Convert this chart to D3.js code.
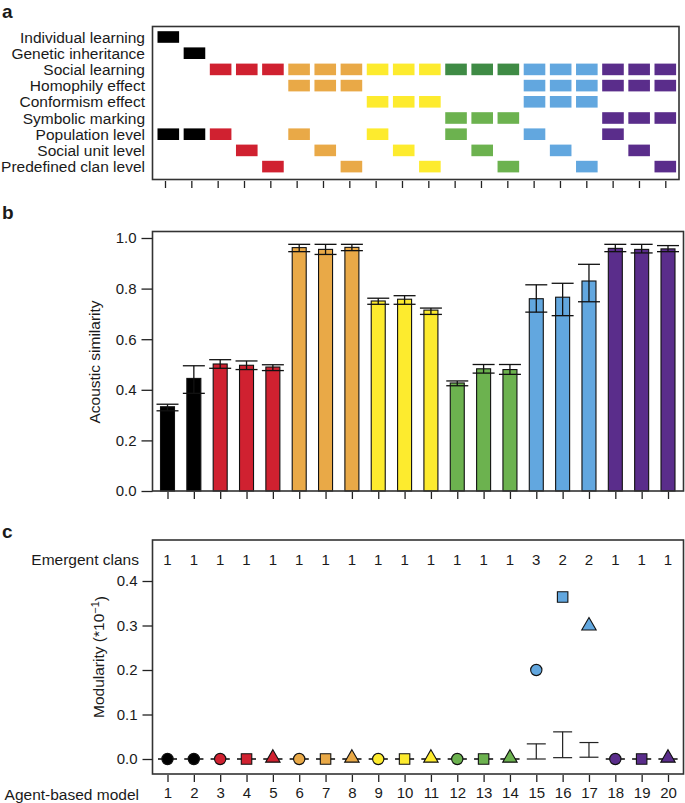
<!DOCTYPE html>
<html><head><meta charset="utf-8">
<script src="https://cdn.jsdelivr.net/npm/d3@7"></script>
<style>body{margin:0;background:#fff}svg{display:block}text{font-family:"Liberation Sans",Arial,sans-serif;fill:#1a1a1a}</style>
</head><body>
<script>
const models = d3.range(1, 21);
const features = ["Individual learning","Genetic inheritance","Social learning","Homophily effect","Conformism effect","Symbolic marking","Population level","Social unit level","Predefined clan level"];
const groupOf = ["black","black","red","red","red","orange","orange","orange","yellow","yellow","yellow","green","green","green","blue","blue","blue","purple","purple","purple"];
// active features per model (indices into features)
const activeFeatures = [
 [0,6],[1,6],[2,6],[2,7],[2,8],[2,3,6],[2,3,7],[2,3,8],[2,4,6],[2,4,7],[2,4,8],
 [2,5,6],[2,5,7],[2,5,8],[2,3,4,6],[2,3,4,7],[2,3,4,8],[2,3,5,6],[2,3,5,7],[2,3,5,8]
];
const similarity = [0.333,0.445,0.502,0.497,0.490,0.962,0.955,0.963,0.751,0.758,0.715,0.427,0.483,0.480,0.760,0.766,0.830,0.959,0.955,0.957];
const simLow  = [0.317,0.386,0.485,0.480,0.476,0.946,0.935,0.950,0.738,0.738,0.698,0.416,0.466,0.461,0.707,0.693,0.748,0.946,0.941,0.946];
const simHigh = [0.343,0.495,0.519,0.514,0.499,0.975,0.975,0.975,0.762,0.772,0.723,0.435,0.500,0.500,0.815,0.821,0.896,0.975,0.975,0.970];
const modularity = [0,0,0,0,0,0,0,0,0,0,0,0,0,0,0.200,0.364,0.297,0,0,0];
const modLow  = [0,0,0,0,0,0,0,0,0,0,0,0,0,0,0.000,0.003,0.004,0,0,0];
const modHigh = [0,0,0,0,0,0,0,0,0,0,0,0,0,0,0.034,0.061,0.037,0,0,0];
const emergentClans = [1,1,1,1,1,1,1,1,1,1,1,1,1,1,3,2,2,1,1,1];
const shapes = ["circle","circle","circle","square","triangle","circle","square","triangle","circle","square","triangle","circle","square","triangle","circle","square","triangle","circle","square","triangle"];
const simTicks = [0,0.2,0.4,0.6,0.8,1.0];
const modTicks = [0,0.1,0.2,0.3,0.4];

const colors = {black:"#000000", red:"#d02130", orange:"#e9a947", yellow:"#fdeb2e", green:"#6cb24f", blue:"#62a7df", purple:"#5a2d8b"};
const darkGreen = "#3f8b45";
const boxColor = "#333";
const LBL = "15.5px", TCK = "15px";

const svg = d3.select("body").append("svg").attr("width",685).attr("height",803);

// panel letters
[["a",18],["b",219],["c",538]].forEach(([t,y])=>{
  svg.append("text").attr("x",2).attr("y",y).text(t).style("font-size","19px").style("font-weight","bold");
});

// ---------- Panel a ----------
const aRect = d3.scaleLinear().domain([1,20]).range([168.3,665.3]);
const aTick = d3.scaleLinear().domain([1,20]).range([165,665.3]);
const aRow = d3.scaleLinear().domain([0,8]).range([37,166.6]);
const gA = svg.append("g");
gA.append("rect").attr("x",152.5).attr("y",26.5).attr("width",679-152.5).attr("height",179.5-26.5)
  .attr("fill","none").attr("stroke",boxColor).attr("stroke-width",1.6);
features.forEach((f,k)=>{
  gA.append("text").attr("x",145).attr("y",aRow(k)).attr("dy","0.36em").attr("text-anchor","end")
    .style("font-size",LBL).text(f);
});
const cells = [];
models.forEach((m,i)=>activeFeatures[i].forEach(k=>cells.push({m,k,g:groupOf[i]})));
gA.selectAll("rect.cell").data(cells).join("rect").attr("class","cell")
  .attr("x",d=>aRect(d.m)-10.8).attr("y",d=>aRow(d.k)-5.8).attr("width",21.6).attr("height",11.6)
  .attr("fill",d=> (d.g==="green" && d.k===2) ? darkGreen : colors[d.g]);
const axA = d3.axisBottom(aTick).tickValues(models).tickSize(7).tickFormat("");
gA.append("g").attr("transform","translate(0,181)").call(axA).call(g=>{g.select(".domain").remove();g.selectAll("line").attr("stroke","#222").attr("stroke-width",1.3);});

// ---------- Panel b ----------
const x = d3.scaleLinear().domain([1,20]).range([167.5,668]);
const yB = d3.scaleLinear().domain([0,1]).range([491,238]);
const gB = svg.append("g");
const barData = models.map((m,i)=>({m,v:similarity[i],lo:simLow[i],hi:simHigh[i],c:colors[groupOf[i]]}));
gB.selectAll("rect.bar").data(barData).join("rect").attr("class","bar")
  .attr("x",d=>x(d.m)-7).attr("y",d=>yB(d.v)).attr("width",14).attr("height",d=>yB(0)-yB(d.v))
  .attr("fill",d=>d.c).attr("stroke","#111").attr("stroke-width",1.1);
const eb = gB.selectAll("g.eb").data(barData).join("g").attr("class","eb").attr("stroke","#111").attr("stroke-width",1.3);
eb.append("line").attr("x1",d=>x(d.m)).attr("x2",d=>x(d.m)).attr("y1",d=>yB(d.lo)).attr("y2",d=>yB(d.hi));
eb.append("line").attr("x1",d=>x(d.m)-11).attr("x2",d=>x(d.m)+11).attr("y1",d=>yB(d.lo)).attr("y2",d=>yB(d.lo));
eb.append("line").attr("x1",d=>x(d.m)-11).attr("x2",d=>x(d.m)+11).attr("y1",d=>yB(d.hi)).attr("y2",d=>yB(d.hi));
gB.append("rect").attr("x",152.5).attr("y",231.5).attr("width",683.5-152.5).attr("height",491-231.5)
  .attr("fill","none").attr("stroke",boxColor).attr("stroke-width",1.6);
gB.append("g").attr("transform","translate(152.5,0)").call(d3.axisLeft(yB).tickValues(simTicks).tickSize(11).tickPadding(5).tickFormat(d3.format(".1f")))
  .call(g=>{g.select(".domain").remove();g.selectAll("line").attr("stroke","#222").attr("stroke-width",1.3);g.selectAll("text").style("font-size",TCK).style("font-family","Liberation Sans, Arial, sans-serif").attr("fill","#1a1a1a");});
gB.append("g").attr("transform","translate(0,492)").call(d3.axisBottom(x).tickValues(models).tickSize(7).tickFormat(""))
  .call(g=>{g.select(".domain").remove();g.selectAll("line").attr("stroke","#222").attr("stroke-width",1.3);});
gB.append("text").attr("transform","translate(100,362) rotate(-90)").attr("text-anchor","middle").style("font-size",LBL).text("Acoustic similarity");

// ---------- Panel c ----------
const yC = d3.scaleLinear().domain([0,0.4]).range([759,581]);
const gC = svg.append("g");
gC.append("rect").attr("x",152.5).attr("y",540).attr("width",683.5-152.5).attr("height",774-540)
  .attr("fill","none").attr("stroke",boxColor).attr("stroke-width",1.6);
gC.append("g").attr("transform","translate(152.5,0)").call(d3.axisLeft(yC).tickValues(modTicks).tickSize(10).tickPadding(5).tickFormat(d3.format(".1f")))
  .call(g=>{g.select(".domain").remove();g.selectAll("line").attr("stroke","#222").attr("stroke-width",1.3);g.selectAll("text").style("font-size",TCK).style("font-family","Liberation Sans, Arial, sans-serif").attr("fill","#1a1a1a");});
gC.append("g").attr("transform","translate(0,775)").call(d3.axisBottom(x).tickValues(models).tickSize(7).tickPadding(5).tickFormat(d3.format("d")))
  .call(g=>{g.select(".domain").remove();g.selectAll("line").attr("stroke","#222").attr("stroke-width",1.3);g.selectAll("text").style("font-size",TCK).style("font-family","Liberation Sans, Arial, sans-serif").attr("fill","#1a1a1a");});
gC.append("text").attr("x",139).attr("y",799.5).attr("text-anchor","end").style("font-size",LBL).text("Agent-based model");
gC.append("text").attr("x",139).attr("y",564.5).attr("text-anchor","end").style("font-size",LBL).text("Emergent clans");
gC.selectAll("text.clan").data(models).join("text").attr("class","clan")
  .attr("x",d=>x(d)).attr("y",564.5).attr("text-anchor","middle").style("font-size",TCK).text((d,i)=>emergentClans[i]);
const ptData = models.map((m,i)=>({m,v:modularity[i],lo:modLow[i],hi:modHigh[i],s:shapes[i],c:colors[groupOf[i]]}));
const ebc = gC.selectAll("g.ebc").data(ptData).join("g").attr("class","ebc").attr("stroke","#222").attr("stroke-width",1.2);
ebc.append("line").attr("x1",d=>x(d.m)).attr("x2",d=>x(d.m)).attr("y1",d=>yC(d.lo)).attr("y2",d=>yC(d.hi));
ebc.append("line").attr("x1",d=>x(d.m)-9.5).attr("x2",d=>x(d.m)+9.5).attr("y1",d=>yC(d.lo)).attr("y2",d=>yC(d.lo));
ebc.append("line").attr("x1",d=>x(d.m)-9.5).attr("x2",d=>x(d.m)+9.5).attr("y1",d=>yC(d.hi)).attr("y2",d=>yC(d.hi));
const symMap = {circle:d3.symbolCircle, square:d3.symbolSquare, triangle:d3.symbolTriangle};
const symSize = {circle:100, square:110, triangle:90};
gC.selectAll("path.pt").data(ptData).join("path").attr("class","pt")
  .attr("d",d=>d3.symbol().type(symMap[d.s]).size(symSize[d.s])())
  .attr("transform",d=>`translate(${x(d.m)},${yC(d.v) + (d.s==="triangle"?-1:0)})`)
  .attr("fill",d=>d.c).attr("stroke","#111").attr("stroke-width",1.1);
const modTitle = gC.append("text").attr("transform","translate(104,657) rotate(-90)").attr("text-anchor","middle").style("font-size",LBL);
modTitle.append("tspan").text("Modularity (*10");
modTitle.append("tspan").attr("dy","-0.45em").style("font-size","11px").text("\u22121");
modTitle.append("tspan").attr("dy","0.45em").text(")");
</script>
</body></html>
